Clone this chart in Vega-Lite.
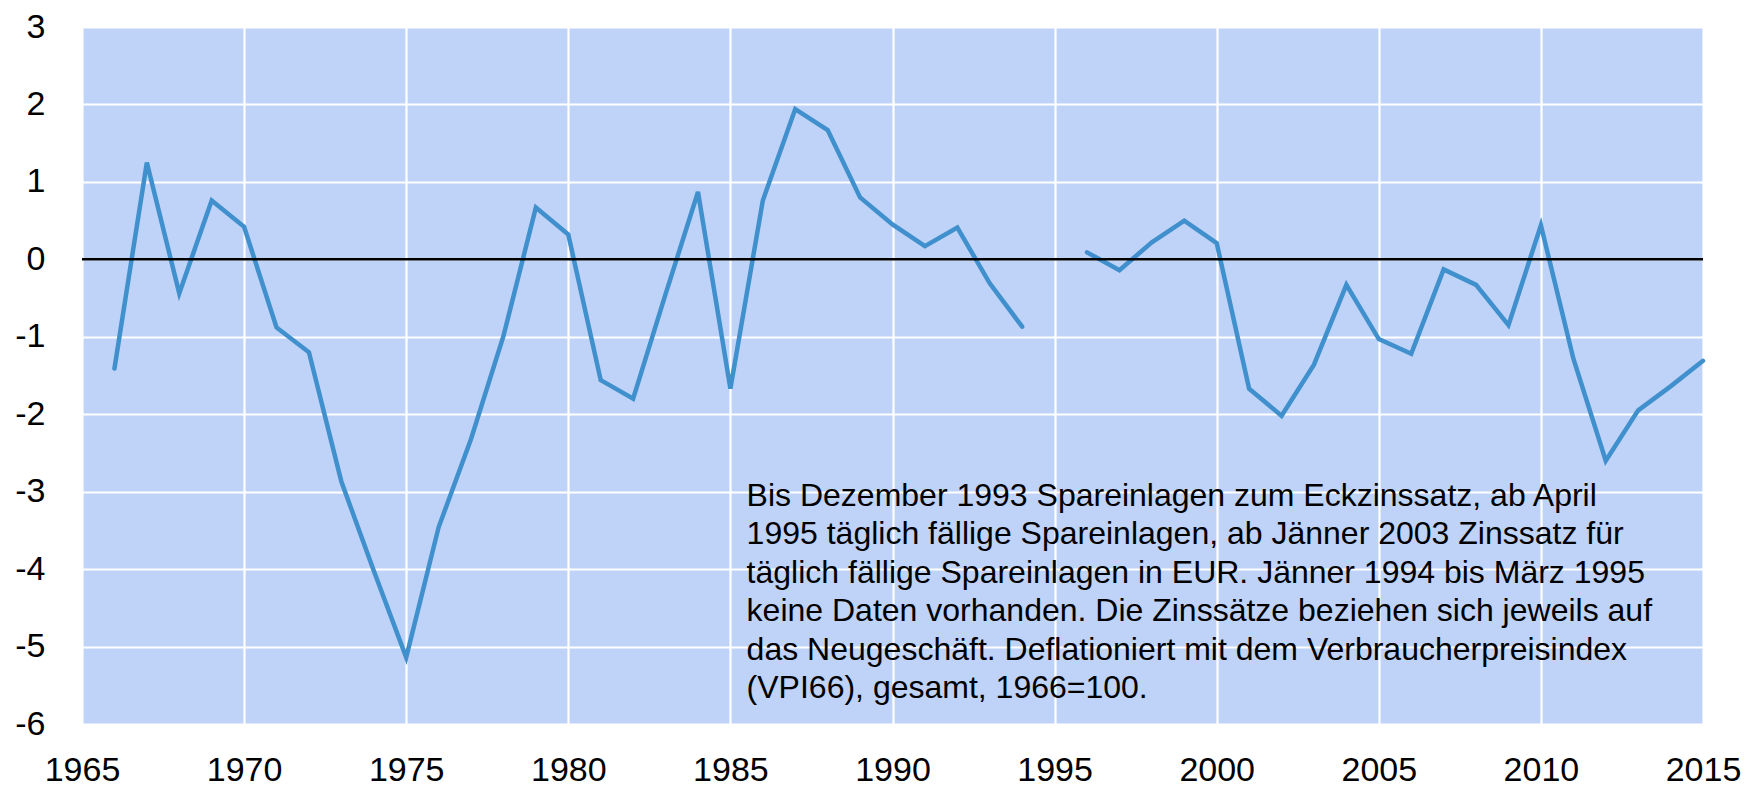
{
  "$schema": "https://vega.github.io/schema/vega-lite/v6.json",
  "autosize": {"type": "none"},
  "width": 1621,
  "height": 697,
  "padding": {"left": 82, "top": 27, "right": 46, "bottom": 62},
  "background": "white",
  "config": {
    "view": {"fill": "#BFD2F7", "stroke": null},
    "font": "Liberation Sans",
    "axis": {
      "labelFont": "Liberation Sans",
      "labelFontSize": 34,
      "labelColor": "#000000",
      "ticks": false,
      "domain": false,
      "grid": true,
      "gridColor": "#FFFFFF",
      "gridWidth": 2.2,
      "gridOpacity": 1,
      "title": null,
      "labelFlush": false,
      "labelOverlap": false
    }
  },
  "layer": [
    {
      "data": {"values": [
        {"year": 1966, "value": -1.41},
        {"year": 1967, "value": 1.25},
        {"year": 1968, "value": -0.44},
        {"year": 1969, "value": 0.76},
        {"year": 1970, "value": 0.42},
        {"year": 1971, "value": -0.88},
        {"year": 1972, "value": -1.2},
        {"year": 1973, "value": -2.87},
        {"year": 1974, "value": -4.02},
        {"year": 1975, "value": -5.14},
        {"year": 1976, "value": -3.46},
        {"year": 1977, "value": -2.32},
        {"year": 1978, "value": -0.99},
        {"year": 1979, "value": 0.67},
        {"year": 1980, "value": 0.32},
        {"year": 1981, "value": -1.56},
        {"year": 1982, "value": -1.8},
        {"year": 1983, "value": -0.45},
        {"year": 1984, "value": 0.87},
        {"year": 1985, "value": -1.67},
        {"year": 1986, "value": 0.76},
        {"year": 1987, "value": 1.94},
        {"year": 1988, "value": 1.67},
        {"year": 1989, "value": 0.8},
        {"year": 1990, "value": 0.45},
        {"year": 1991, "value": 0.17},
        {"year": 1992, "value": 0.41},
        {"year": 1993, "value": -0.31},
        {"year": 1994, "value": -0.87},
        {"year": 1995, "value": null},
        {"year": 1996, "value": 0.09},
        {"year": 1997, "value": -0.14},
        {"year": 1998, "value": 0.22},
        {"year": 1999, "value": 0.5},
        {"year": 2000, "value": 0.21},
        {"year": 2001, "value": -1.67},
        {"year": 2002, "value": -2.02},
        {"year": 2003, "value": -1.36},
        {"year": 2004, "value": -0.33},
        {"year": 2005, "value": -1.03},
        {"year": 2006, "value": -1.22},
        {"year": 2007, "value": -0.13},
        {"year": 2008, "value": -0.33},
        {"year": 2009, "value": -0.85},
        {"year": 2010, "value": 0.44},
        {"year": 2011, "value": -1.28},
        {"year": 2012, "value": -2.6},
        {"year": 2013, "value": -1.95},
        {"year": 2014, "value": -1.64},
        {"year": 2015, "value": -1.31}
      ]},
      "mark": {"type": "line", "color": "#3F90CC", "strokeWidth": 4.5, "strokeJoin": "miter", "strokeCap": "round", "invalid": "break-paths-filter-domains"},
      "encoding": {
        "x": {
          "field": "year", "type": "quantitative",
          "scale": {"domain": [1965, 2015], "nice": false, "zero": false},
          "axis": {"values": [1965, 1970, 1975, 1980, 1985, 1990, 1995, 2000, 2005, 2010, 2015], "format": "d", "labelPadding": 29}
        },
        "y": {
          "field": "value", "type": "quantitative",
          "scale": {"domain": [-6, 3], "nice": false, "zero": false},
          "axis": {"values": [-6, -5, -4, -3, -2, -1, 0, 1, 2, 3], "labelExpr": "'' + datum.value", "labelPadding": 37}
        }
      }
    },
    {
      "data": {"values": [{"zero": 0}]},
      "mark": {"type": "rule", "color": "#000000", "strokeWidth": 2.5},
      "encoding": {"y": {"field": "zero", "type": "quantitative"}}
    },
    {
      "data": {"values": [{"year": 1985.5, "value": -3.18, "note": "Bis Dezember 1993 Spareinlagen zum Eckzinssatz, ab April\n1995 täglich fällige Spareinlagen, ab Jänner 2003 Zinssatz für\ntäglich fällige Spareinlagen in EUR. Jänner 1994 bis März 1995\nkeine Daten vorhanden. Die Zinssätze beziehen sich jeweils auf\ndas Neugeschäft. Deflationiert mit dem Verbraucherpreisindex\n(VPI66), gesamt, 1966=100."}]},
      "mark": {"type": "text", "align": "left", "baseline": "alphabetic", "lineBreak": "\n", "fontSize": 32, "lineHeight": 38.5, "font": "Liberation Sans", "color": "#000000"},
      "encoding": {
        "x": {"field": "year", "type": "quantitative"},
        "y": {"field": "value", "type": "quantitative"},
        "text": {"field": "note", "type": "nominal"}
      }
    }
  ]
}
